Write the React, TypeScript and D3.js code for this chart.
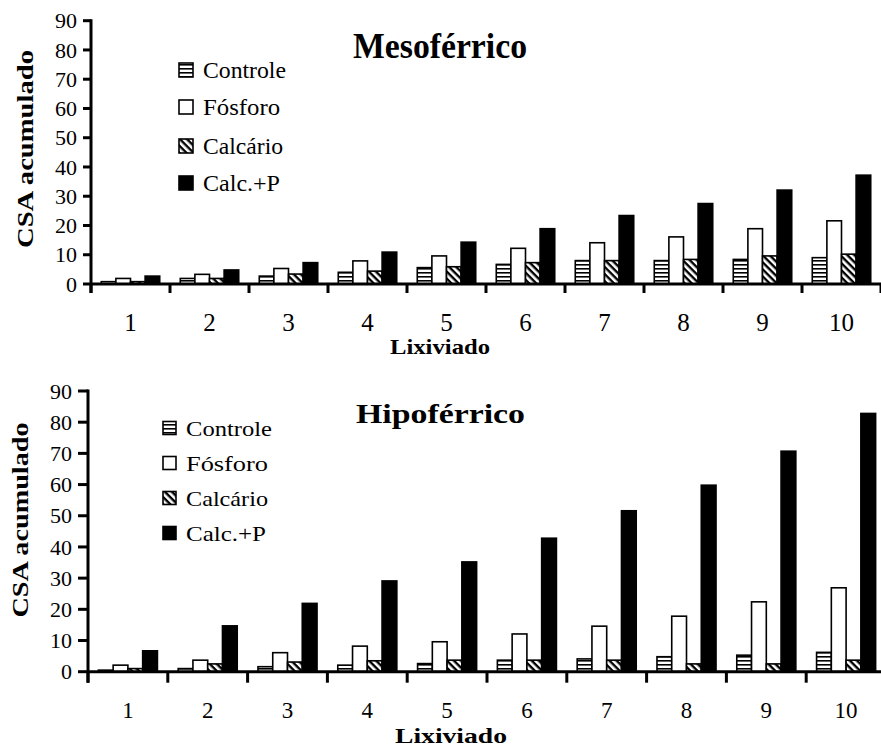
import React from 'react';
import * as d3 from 'd3';

const categories = ['1', '2', '3', '4', '5', '6', '7', '8', '9', '10'];
const seriesNames = ['Controle', 'Fósforo', 'Calcário', 'Calc.+P'];
const yTicks = [0, 10, 20, 30, 40, 50, 60, 70, 80, 90];

const mesoControle = [0.8, 1.9, 2.7, 4.0, 5.6, 6.7, 8.0, 8.0, 8.4, 9.0];
const mesoFosforo = [1.9, 3.3, 5.3, 7.9, 9.6, 12.2, 14.1, 16.1, 18.9, 21.6];
const mesoCalcario = [0.8, 1.9, 3.4, 4.4, 5.9, 7.3, 8.0, 8.4, 9.6, 10.2];
const mesoCalcP = [2.7, 4.8, 7.3, 10.9, 14.3, 18.9, 23.4, 27.5, 32.1, 37.2];

const hipoControle = [0.5, 1.0, 1.6, 2.1, 2.6, 3.7, 4.1, 4.8, 5.3, 6.2];
const hipoFosforo = [2.1, 3.7, 6.1, 8.2, 9.6, 12.1, 14.6, 17.8, 22.4, 26.9];
const hipoCalcario = [1.0, 2.5, 3.1, 3.5, 3.7, 3.7, 3.7, 2.5, 2.5, 3.7];
const hipoCalcP = [6.7, 14.7, 21.9, 29.1, 35.2, 42.8, 51.6, 59.8, 70.7, 82.8];

const SERIF = "'Liberation Serif', 'Times New Roman', serif";

type PanelCfg = {
  id: string;
  title: string;
  values: number[][];
  x0: number;
  x1: number;
  yTop: number;
  yBottom: number;
  tickLen: number;
  yTickFont: number;
  xTickFont: number;
  xTickY: number;
  xLabelY: number;
  xLabelX: number;
  xLabelLen: number;
  yLabelX: number;
  yLabelY: number;
  yLabelLen: number;
  titleX: number;
  titleY: number;
  titleFont: number;
  titleLen: number;
  legX: number;
  legY: number[];
  legFont: number;
  legLens: number[];
  legSize: number;
};

function fillFor(id: string, i: number) {
  if (i === 0) return `url(#hstripe-${id})`;
  if (i === 1) return '#ffffff';
  if (i === 2) return `url(#dstripe-${id})`;
  return '#000000';
}

function Panel({ c }: { c: PanelCfg }) {
  const x = d3
    .scaleBand<string>()
    .domain(categories)
    .range([c.x0, c.x1])
    .paddingInner(0.26)
    .paddingOuter(0.13);
  const inner = d3
    .scaleBand<string>()
    .domain(seriesNames)
    .range([0, x.bandwidth()]);
  const y = d3.scaleLinear().domain([0, 90]).range([c.yBottom, c.yTop]);
  const step = x.step();
  const boundaries = d3.range(categories.length + 1).map((i) => c.x0 + i * step);

  return (
    <g>
      <defs>
        <pattern id={`hstripe-${c.id}`} patternUnits="userSpaceOnUse" width={4} height={4}>
          <rect width={4} height={4} fill="#fff" />
          <rect y={0} width={4} height={1.6} fill="#000" />
        </pattern>
        <pattern
          id={`dstripe-${c.id}`}
          patternUnits="userSpaceOnUse"
          width={5}
          height={5}
          patternTransform="rotate(45)"
        >
          <rect width={5} height={5} fill="#fff" />
          <rect y={0} width={5} height={2.4} fill="#000" />
        </pattern>
      </defs>

      {/* bars */}
      {categories.map((cat, ci) => (
        <g key={cat}>
          {seriesNames.map((s, si) => {
            const v = c.values[si][ci];
            const bx = (x(cat) as number) + (inner(s) as number);
            const by = y(v);
            return (
              <rect
                key={s}
                x={bx}
                y={by}
                width={inner.bandwidth()}
                height={c.yBottom - by}
                fill={fillFor(c.id, si)}
                stroke="#000"
                strokeWidth={1.6}
              />
            );
          })}
        </g>
      ))}

      {/* y axis */}
      <line x1={c.x0} x2={c.x0} y1={c.yTop - 1.5} y2={c.yBottom + c.tickLen + 1} stroke="#000" strokeWidth={3} />
      {yTicks.map((t) => (
        <g key={t}>
          <line x1={c.x0 - c.tickLen} x2={c.x0} y1={y(t)} y2={y(t)} stroke="#000" strokeWidth={3} />
          <text
            x={c.x0 - c.tickLen - 6}
            y={y(t)}
            dy="0.35em"
            textAnchor="end"
            fontFamily={SERIF}
            fontSize={c.yTickFont}
          >
            {t}
          </text>
        </g>
      ))}

      {/* x axis */}
      <line x1={c.x0} x2={c.x1 + 2} y1={c.yBottom} y2={c.yBottom} stroke="#000" strokeWidth={3} />
      {boundaries.map((b, i) => (
        <line key={i} x1={b} x2={b} y1={c.yBottom} y2={c.yBottom + c.tickLen + 1} stroke="#000" strokeWidth={3} />
      ))}
      {categories.map((cat) => (
        <text
          key={cat}
          x={(x(cat) as number) + x.bandwidth() / 2}
          y={c.xTickY}
          textAnchor="middle"
          fontFamily={SERIF}
          fontSize={c.xTickFont}
        >
          {cat}
        </text>
      ))}
      <text
        x={c.xLabelX}
        y={c.xLabelY}
        textAnchor="middle"
        fontFamily={SERIF}
        fontWeight="bold"
        fontSize={22}
        textLength={c.xLabelLen}
        lengthAdjust="spacingAndGlyphs"
      >
        Lixiviado
      </text>

      {/* y label */}
      <text
        transform={`translate(${c.yLabelX},${c.yLabelY}) rotate(-90)`}
        textAnchor="middle"
        fontFamily={SERIF}
        fontWeight="bold"
        fontSize={24}
        textLength={c.yLabelLen}
        lengthAdjust="spacingAndGlyphs"
      >
        CSA acumulado
      </text>

      {/* title */}
      <text
        x={c.titleX}
        y={c.titleY}
        fontFamily={SERIF}
        fontWeight="bold"
        fontSize={c.titleFont}
        textLength={c.titleLen}
        lengthAdjust="spacingAndGlyphs"
      >
        {c.title}
      </text>

      {/* legend */}
      {seriesNames.map((s, si) => (
        <g key={s}>
          <rect
            x={c.legX}
            y={c.legY[si] - c.legSize / 2}
            width={c.legSize}
            height={c.legSize}
            fill={fillFor(c.id, si)}
            stroke="#000"
            strokeWidth={1.6}
          />
          <text
            x={c.legX + c.legSize + 10}
            y={c.legY[si]}
            dy="0.35em"
            fontFamily={SERIF}
            fontSize={c.legFont}
            textLength={c.legLens[si]}
            lengthAdjust="spacingAndGlyphs"
          >
            {s}
          </text>
        </g>
      ))}
    </g>
  );
}

const topCfg: PanelCfg = {
  id: 'meso',
  title: 'Mesoférrico',
  values: [mesoControle, mesoFosforo, mesoCalcario, mesoCalcP],
  x0: 91,
  x1: 881,
  yTop: 20.7,
  yBottom: 284,
  tickLen: 8,
  yTickFont: 22,
  xTickFont: 25,
  xTickY: 331,
  xLabelY: 354,
  xLabelX: 440,
  xLabelLen: 100,
  yLabelX: 33,
  yLabelY: 149,
  yLabelLen: 198,
  titleX: 353,
  titleY: 58,
  titleFont: 36,
  titleLen: 174,
  legX: 179,
  legY: [70, 107, 146, 183],
  legFont: 24,
  legLens: [83, 77, 80, 77],
  legSize: 14,
};

const bottomCfg: PanelCfg = {
  id: 'hipo',
  title: 'Hipoférrico',
  values: [hipoControle, hipoFosforo, hipoCalcario, hipoCalcP],
  x0: 88,
  x1: 886,
  yTop: 391,
  yBottom: 671.7,
  tickLen: 10,
  yTickFont: 22,
  xTickFont: 23,
  xTickY: 718,
  xLabelY: 743,
  xLabelX: 451,
  xLabelLen: 112,
  yLabelX: 28,
  yLabelY: 520,
  yLabelLen: 195,
  titleX: 356,
  titleY: 423,
  titleFont: 28,
  titleLen: 169,
  legX: 163,
  legY: [428, 463, 498, 533],
  legFont: 22,
  legLens: [86, 82, 82, 80],
  legSize: 13,
};

export default function App() {
  return (
    <svg
      width={881}
      height={749}
      viewBox="0 0 881 749"
      style={{ position: 'absolute', left: 0, top: 0, background: '#fff' }}
    >
      <rect width={881} height={749} fill="#fff" />
      <Panel c={topCfg} />
      <Panel c={bottomCfg} />
    </svg>
  );
}
